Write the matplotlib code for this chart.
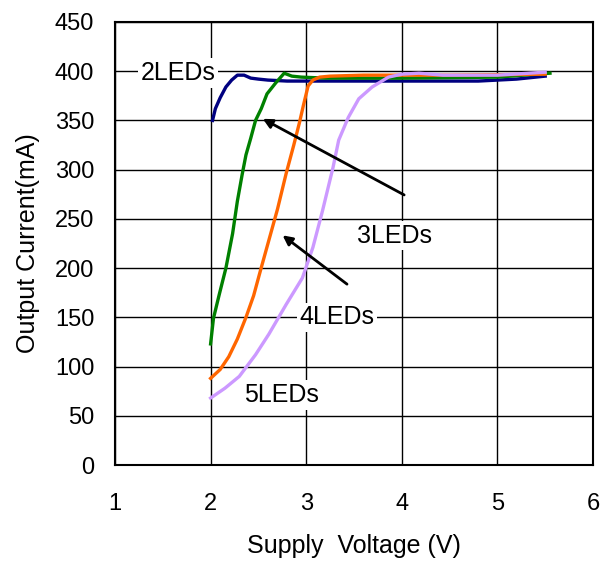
import matplotlib
matplotlib.use("Agg")
import matplotlib.pyplot as plt

plt.rcParams["font.family"] = ["Liberation Sans", "DejaVu Sans"]

# 2LEDs
v2 = [2.02, 2.05, 2.1, 2.16, 2.22, 2.28, 2.35, 2.42, 2.5, 2.6, 2.8, 3.5, 4.8, 5.2, 5.5]
i2 = [350, 362, 373, 384, 391, 396, 396, 393, 392, 391, 390, 390, 390, 392, 395]
# 3LEDs
v3 = [2.0, 2.03, 2.09, 2.16, 2.23, 2.28, 2.33, 2.37, 2.42, 2.47, 2.53, 2.59, 2.68, 2.77, 2.85, 2.95, 3.2, 4.0, 5.0, 5.55]
i3 = [123, 149, 173, 200, 235, 268, 295, 315, 332, 350, 362, 377, 388, 398, 395, 394, 393, 393, 394, 398]
# 4LEDs
v4 = [2.0, 2.1, 2.19, 2.28, 2.37, 2.45, 2.52, 2.6, 2.7, 2.79, 2.87, 2.93, 2.97, 3.02, 3.07, 3.14, 3.25, 3.6, 4.5, 5.5]
i4 = [88, 97, 110, 128, 150, 172, 197, 225, 260, 296, 325, 348, 365, 385, 391, 394, 395, 396, 396, 397]
# 5LEDs
v5 = [2.0, 2.15, 2.3, 2.47, 2.61, 2.79, 2.96, 3.07, 3.17, 3.28, 3.34, 3.44, 3.55, 3.69, 3.86, 4.0, 4.18, 4.43, 5.0, 5.5]
i5 = [68, 78, 90, 112, 133, 163, 190, 221, 258, 302, 330, 353, 372, 384, 394, 397, 398, 396, 396, 399]

fig = plt.figure(figsize=(6.11, 5.68), dpi=100)
ax = fig.add_axes([115 / 611, 1 - 465 / 568, 478 / 611, 443 / 568])

ax.grid(True, color="black", linewidth=1)
ax.set_axisbelow(True)

ax.plot(v2, i2, color="#000080", lw=2.4)
ax.plot(v3, i3, color="#008000", lw=2.4)
ax.plot(v4, i4, color="#FF6600", lw=2.4)
ax.plot(v5, i5, color="#CC99FF", lw=2.4)

ax.set_xlim(1, 6)
ax.set_ylim(0, 450)
ax.set_xticks([1, 2, 3, 4, 5, 6])
ax.set_yticks(range(0, 451, 50))
ax.tick_params(length=0, labelsize=17)
ax.tick_params(axis="x", pad=20)
ax.tick_params(axis="y", pad=15)
for s in ax.spines.values():
    s.set_linewidth(1.5)

ax.set_xlabel("Supply  Voltage (V)", fontsize=18, labelpad=14)
ax.set_ylabel("Output Current(mA)", fontsize=18, labelpad=11)

box = dict(facecolor="white", edgecolor="none", pad=2)
ax.text(1.66, 398, "2LEDs", fontsize=18, ha="center", va="center", bbox=box)
ax.text(3.92, 233, "3LEDs", fontsize=18, ha="center", va="center", bbox=box)
ax.text(3.32, 150, "4LEDs", fontsize=18, ha="center", va="center", bbox=box)
ax.text(2.74, 71, "5LEDs", fontsize=18, ha="center", va="center", bbox=box)

arrow = dict(arrowstyle="-|>", color="black", lw=2, mutation_scale=14)
ax.annotate("", xy=(2.52, 353), xytext=(4.05, 273), arrowprops=arrow)
ax.annotate("", xy=(2.73, 235), xytext=(3.45, 182), arrowprops=arrow)

fig.savefig("out.png", dpi=100)
